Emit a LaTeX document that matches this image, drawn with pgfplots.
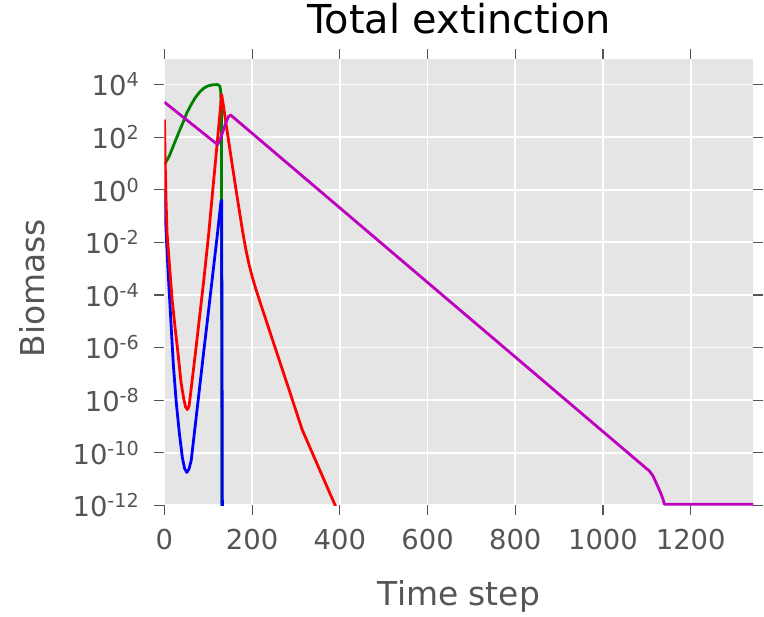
\documentclass[border=0pt]{standalone}
\usepackage{fontspec}
\setmainfont{DejaVu Sans}
\usepackage{pgfplots}
\pgfplotsset{compat=1.18}

\definecolor{bggray}{HTML}{E5E5E5}
\definecolor{txtgray}{HTML}{555555}
\definecolor{mplgreen}{rgb}{0,0.5,0}
\definecolor{mplmag}{rgb}{0.75,0,0.75}

\begin{document}
\begin{tikzpicture}
\begin{axis}[
    name=ax,
    width=591pt, height=448pt, scale only axis,
    xmin=0, xmax=1343,
    ymode=log, ymin=1e-12, ymax=9.5e4,
    axis background/.style={fill=bggray},
    axis line style={draw=none},
    grid=major,
    major grid style={white, line width=1.8pt},
    tick align=outside,
    major tick length=10pt,
    tick style={txtgray, line width=1.2pt},
    yminorticks=false,
    xtick={0,200,400,600,800,1000,1200},
    xticklabels={0,200,400,600,800,1000,1200},
    ytick={1e-12,1e-10,1e-8,1e-6,1e-4,1e-2,1,1e2,1e4},
    yticklabels={10\textsuperscript{-12},10\textsuperscript{-10},10\textsuperscript{-8},10\textsuperscript{-6},10\textsuperscript{-4},10\textsuperscript{-2},10\textsuperscript{0},10\textsuperscript{2},10\textsuperscript{4}},
    xticklabel pos=left, yticklabel pos=left,
    ticklabel style={font=\fontsize{27.5}{30}\selectfont, text=txtgray},
    xticklabel style={anchor=north, inner sep=0pt, yshift=-14pt},
    yticklabel style={anchor=east, inner sep=0pt, xshift=-15pt},
    title={Total extinction},
    title style={at={(axis description cs:0.5,1.0431)}, anchor=base, font=\fontsize{40}{48}\selectfont, text=black},
    xlabel={Time step},
    xlabel style={at={(axis description cs:0.5,-0.2254)}, anchor=base, font=\fontsize{33}{40}\selectfont, text=txtgray},
    ylabel={Biomass},
    ylabel style={at={(axis description cs:-0.203,0.486)}, anchor=south, inner sep=0pt, font=\fontsize{33}{40}\selectfont, text=txtgray},
    every axis plot/.append style={line width=2.8pt, line join=round, no markers},
]
% green
\addplot[mplgreen] coordinates {
(0,8.913) (11,19.05) (23,60.26) (34,169.8) (42,346.7) (51,831.8) (61,1738)
(70,3090) (80,5129) (89,7079) (98,8710) (110,9772) (121,10000) (126,8913)
(128,6310) (130,1000) (131,1e-15)
};
% blue
\addplot[blue] coordinates {
(0,1) (4,2.188e-2) (8,1e-3) (12,6.310e-5) (16,3.981e-6) (20.5,1.995e-7)
(27,7.943e-9) (34,5.623e-10) (41,6.310e-11) (46,2.512e-11) (51,1.778e-11)
(56,2.399e-11) (61,5.012e-11) (70,1e-9) (80,2.818e-8) (90,7.943e-7)
(100,2.089e-5) (110,5.754e-4) (121,2.188e-2) (129,0.3715) (130.5,0.398)
(132.5,1e-15)
};
% red
\addplot[red] coordinates {
(0,467.7) (2,6.31) (4,0.2512) (6,2.188e-2) (12,1e-3) (17.5,6.761e-5)
(24,6.310e-6) (30,8.318e-7) (38,4.571e-8) (44,1.122e-8) (48,5.623e-9)
(52,4.365e-9) (56,5.623e-9) (60,1.995e-8) (70,5.012e-7) (80,1.413e-5)
(90,3.981e-4) (101,2.188e-2) (110,0.8913) (120,52.48) (130.5,4169)
(134,1778) (145,100) (155,7.943) (167,0.3981) (179,2.188e-2) (186,5.012e-3)
(193,1.413e-3) (200,5.012e-4) (208,1.778e-4) (216,6.761e-5) (240,4.169e-6)
(269,1.445e-7) (290,1.259e-8) (314,7.586e-10) (350,3.162e-11)
(390,9.333e-13) (420,6.31e-14)
};
% magenta
\addplot[mplmag] coordinates {
(0,2138) (60,338.8) (115,63.1) (121,52.48) (125,66.07) (133,158.5)
(140,354.8) (146,602.6) (151,691.8) (1106,1.995e-11) (1114,1.318e-11)
(1121,7.244e-12) (1127,4.365e-12) (1133,2.570e-12) (1137,1.660e-12)
(1140,1.096e-12) (1343,1.096e-12)
};
\end{axis}
\path ([xshift=-165pt,yshift=-108pt]ax.south west) rectangle ([xshift=8pt,yshift=56pt]ax.north east);
\end{tikzpicture}
\end{document}
